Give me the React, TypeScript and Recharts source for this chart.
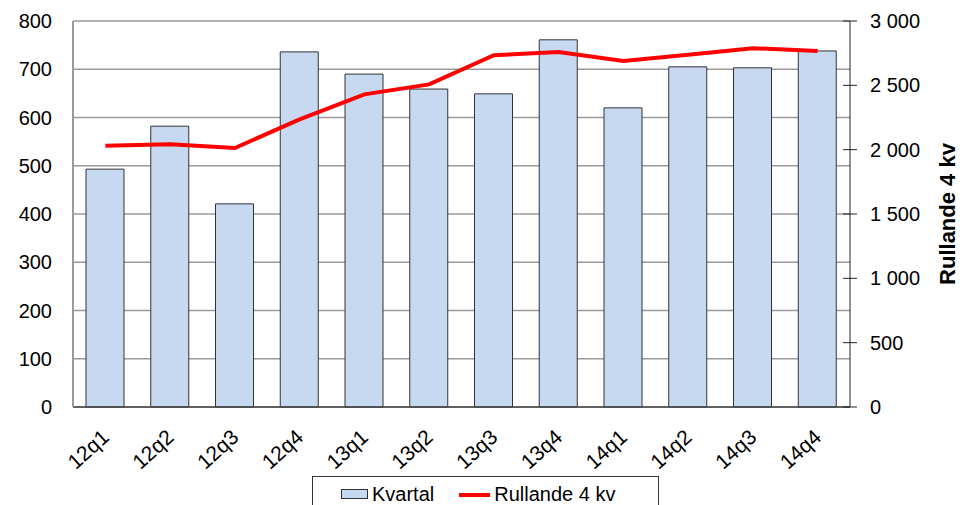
import { Bar, CartesianGrid, ComposedChart, Legend, Line, XAxis, YAxis } from 'recharts';

const categories = ['12q1', '12q2', '12q3', '12q4', '13q1', '13q2', '13q3', '13q4', '14q1', '14q2', '14q3', '14q4'];
const kvartal = [493, 582, 421, 736, 690, 659, 649, 761, 620, 705, 703, 738];
const rullande = [2031, 2042, 2013, 2235, 2430, 2507, 2734, 2759, 2689, 2737, 2789, 2766];
const leftTicks = [0, 100, 200, 300, 400, 500, 600, 700, 800];
const rightTicks = [0, 500, 1000, 1500, 2000, 2500, 3000];

const data = categories.map((q, i) => ({ q, kvartal: kvartal[i], rullande: rullande[i] }));

const FONT = '"Liberation Sans", Arial, sans-serif';
const BAR_FILL = '#C6D9F1';
const LINE_RED = '#FF0000';

const fmtThousands = (v: number) => String(v).replace(/\B(?=(\d{3})+(?!\d))/g, ' ');

function CategoryTick({ x, y, payload }: any) {
  const tx = x + 5;
  const ty = y + 24;
  return (
    <text
      x={tx}
      y={ty}
      transform={`rotate(-42 ${tx} ${ty})`}
      textAnchor="end"
      fontSize={21}
      fontFamily={FONT}
      fill="#000"
    >
      {payload.value}
    </text>
  );
}

function RightTick({ x, y, payload }: any) {
  return (
    <g>
      <line x1={x - 7} x2={x + 7} y1={y} y2={y} stroke="#222" strokeWidth={1} />
      <text x={x + 20} y={y} dy="0.355em" fontSize={20} fontFamily={FONT} fill="#000">
        {fmtThousands(payload.value)}
      </text>
    </g>
  );
}

function RightTitle({ viewBox }: any) {
  const cx = viewBox.x + viewBox.width - 22;
  const cy = viewBox.y + viewBox.height / 2;
  return (
    <text
      x={cx}
      y={cy}
      transform={`rotate(-90 ${cx} ${cy})`}
      textAnchor="middle"
      dominantBaseline="central"
      fontSize={22}
      fontWeight="bold"
      fontFamily={FONT}
      fill="#000"
    >
      Rullande 4 kv
    </text>
  );
}

function LegendBox() {
  return (
    <div
      style={{
        boxSizing: 'border-box',
        width: 347,
        height: 40,
        border: '1px solid #333',
        background: '#fff',
        display: 'flex',
        alignItems: 'flex-start',
        paddingLeft: 28,
        paddingTop: 6,
        fontFamily: FONT,
        fontSize: 20,
        color: '#000',
        lineHeight: '22px',
      }}
    >
      <span style={{ display: 'inline-block', width: 27, height: 10, marginTop: 6, background: BAR_FILL, border: '1px solid #333', boxSizing: 'border-box' }} />
      <span style={{ marginLeft: 4 }}>Kvartal</span>
      <span style={{ display: 'inline-block', width: 31, height: 4, marginTop: 10, marginLeft: 25, background: LINE_RED }} />
      <span style={{ marginLeft: 4 }}>Rullande 4 kv</span>
    </div>
  );
}

export default function App() {
  return (
    <div style={{ position: 'absolute', left: 0, top: 0, width: 969, height: 505, background: '#fff' }}>
      <ComposedChart width={969} height={505} data={data} margin={{ top: 21, right: 0, bottom: 0, left: 0 }}>
        <CartesianGrid yAxisId="left" vertical={false} stroke="#9a9a9a" strokeWidth={1.5} />
        <XAxis
          dataKey="q"
          height={98}
          axisLine={{ stroke: '#444', strokeWidth: 1.5 }}
          tickLine={false}
          tick={<CategoryTick />}
          interval={0}
        />
        <YAxis
          yAxisId="left"
          width={73}
          domain={[0, 800]}
          ticks={leftTicks}
          interval={0}
          axisLine={{ stroke: '#9a9a9a', strokeWidth: 2 }}
          tickLine={false}
          tickSize={0}
          tickMargin={21}
          tick={{ fontSize: 20, fontFamily: FONT, fill: '#000' }}
        />
        <YAxis
          yAxisId="right"
          orientation="right"
          width={119}
          domain={[0, 3000]}
          ticks={rightTicks}
          interval={0}
          axisLine={{ stroke: '#222', strokeWidth: 1 }}
          tickLine={false}
          tickSize={0}
          tickMargin={0}
          tick={<RightTick />}
          label={<RightTitle />}
        />
        <Legend
          layout="horizontal"
          verticalAlign="middle"
          align="center"
          wrapperStyle={{ left: 312, top: 476, width: 347, height: 40 }}
          content={() => <LegendBox />}
        />
        <Bar
          yAxisId="left"
          dataKey="kvartal"
          name="Kvartal"
          barSize={38}
          fill={BAR_FILL}
          stroke="#333"
          strokeWidth={1}
          isAnimationActive={false}
        />
        <Line
          yAxisId="right"
          dataKey="rullande"
          name="Rullande 4 kv"
          type="linear"
          stroke={LINE_RED}
          strokeWidth={4}
          dot={false}
          activeDot={false}
          isAnimationActive={false}
        />
      </ComposedChart>
    </div>
  );
}
